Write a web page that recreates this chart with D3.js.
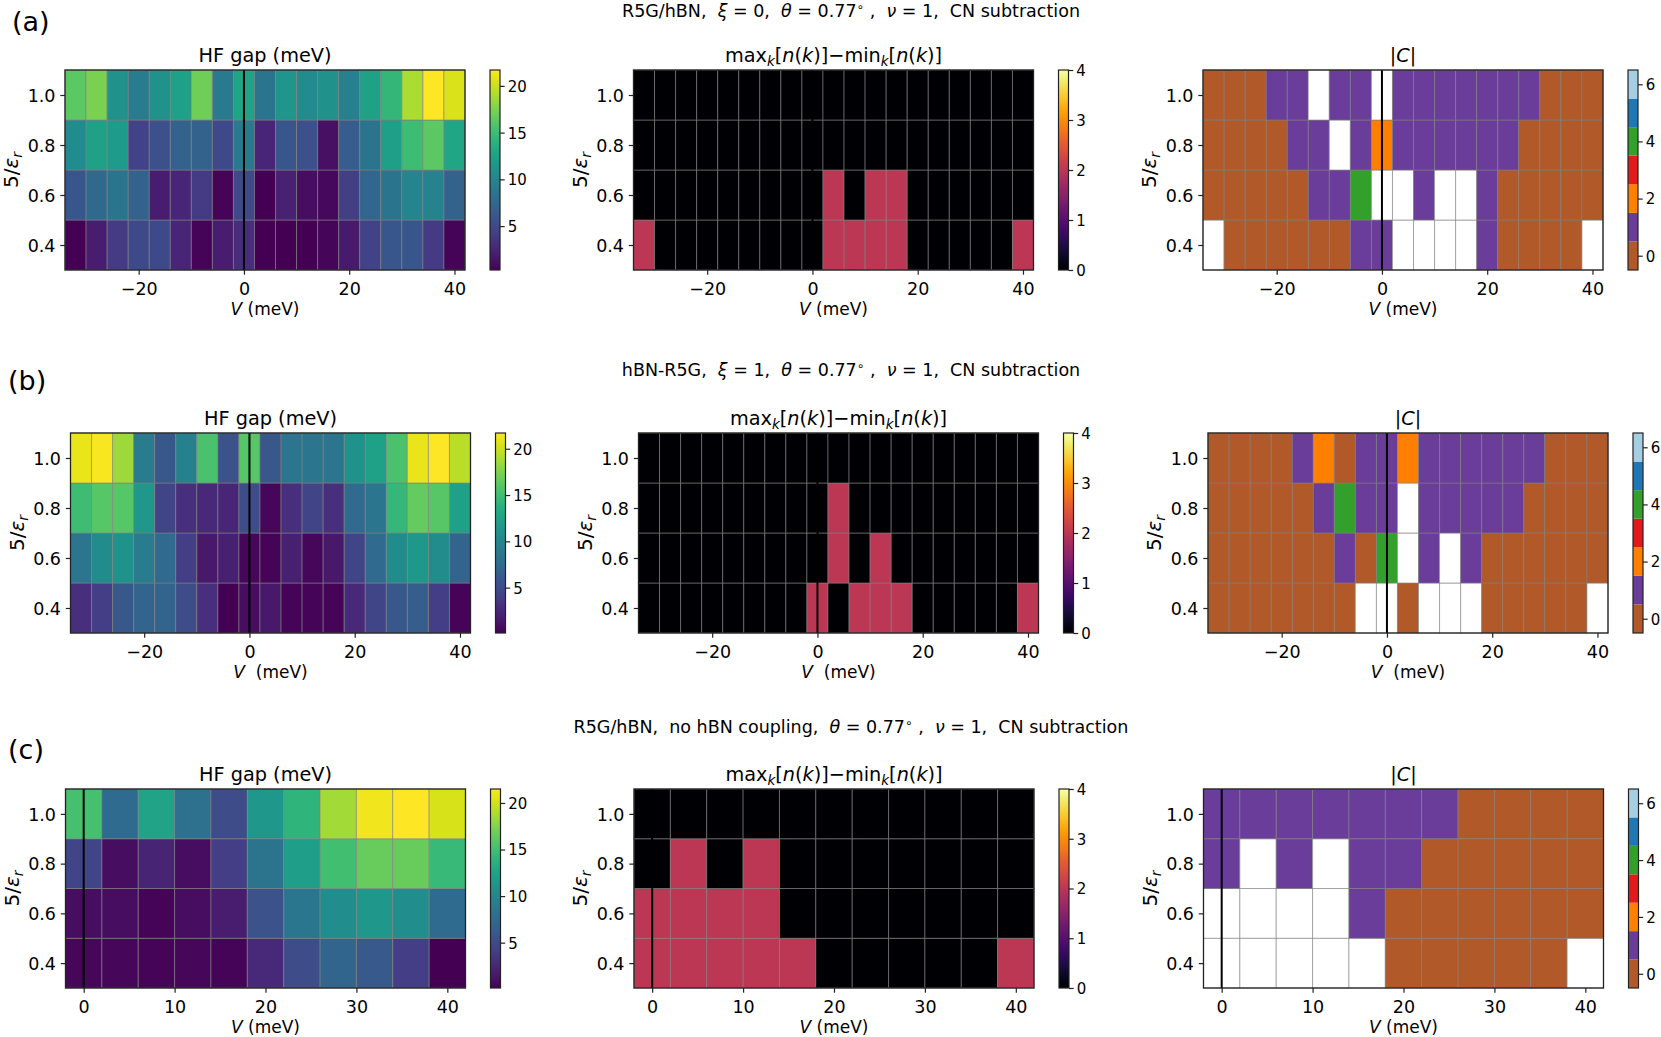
<!DOCTYPE html>
<html><head><meta charset="utf-8">
<script src="https://cdn.jsdelivr.net/npm/d3@7"></script>
<style>
body{margin:0;background:#fff;overflow:hidden;}
text{font-family:"DejaVu Sans",sans-serif;fill:#000;white-space:pre;}
</style></head><body>
<script>
// ---------------- data ----------------
const V_ab = [-32,-28,-24,-20,-16,-12,-8,-4,0,4,8,12,16,20,24,28,32,36,40];
const V_c  = [0,4,8,12,16,20,24,28,32,36,40];
const eps  = [0.4,0.6,0.8,1.0];
const xTicksAB = [-20,0,20,40];
const xTicksC  = [0,10,20,30,40];
const yTicks   = [0.4,0.6,0.8,1.0];
const gapTicks = [5,10,15,20];
const nkTicks  = [0,1,2,3,4];
const cTicks   = [0,2,4,6];

// HF gap (meV), rows: 5/eps = 0.4, 0.6, 0.8, 1.0
const gapA = [
  [0.3,2.0,4.0,5.0,5.0,2.5,0.5,2.0,3.0,0.3,0.3,0.3,0.6,1.8,4.5,6.0,6.0,4.0,0.5],
  [6.0,7.5,8.5,7.0,2.0,2.5,4.0,0.5,5.0,0.3,2.3,1.0,0.8,4.3,7.3,8.5,10.0,9.8,7.0],
  [10.5,12.5,12.0,4.5,5.5,7.0,7.0,5.0,9.0,2.5,6.0,5.5,1.2,6.5,8.5,12.3,15.0,16.3,13.0],
  [16.3,17.4,11.0,9.2,11.0,12.5,17.0,9.0,12.8,8.5,11.5,10.5,11.0,9.5,12.5,14.5,19.0,21.7,20.5]
];
const gapB = [
  [3.0,4.0,6.0,7.0,7.0,5.0,3.0,0.1,0.8,1.5,0.3,0.3,0.3,2.5,4.5,6.0,6.5,4.0,0.3],
  [8.5,10.5,11.0,9.0,7.5,4.0,1.5,2.0,0.5,0.3,2.0,0.5,1.5,4.5,7.5,10.5,11.5,10.5,7.0],
  [15.0,16.0,16.0,11.5,4.5,3.0,2.5,2.3,5.0,0.5,3.0,4.5,3.0,7.5,8.5,14.5,16.5,16.0,12.5],
  [21.0,21.5,18.5,9.0,6.0,9.5,15.5,5.5,16.0,6.0,8.5,8.5,8.5,11.0,12.5,15.5,21.0,21.7,19.5]
];
const gapC = [
  [0.5,0.5,0.3,0.5,0.3,2.5,5.0,7.0,6.0,4.0,0.13],
  [0.8,0.8,0.3,0.8,1.8,5.5,8.5,10.5,11.5,10.5,7.5],
  [4.5,0.8,2.3,0.8,4.0,8.3,12.0,15.0,16.5,16.5,14.5],
  [15.2,7.5,12.5,8.0,5.0,11.5,14.0,18.5,21.0,21.5,20.2]
];

// max_k[n(k)] - min_k[n(k)]
const nkA = [
  [2,0,0,0,0,0,0,0,0,2,2,2,2,0,0,0,0,0,2],
  [0,0,0,0,0,0,0,0,0,2,0,2,2,0,0,0,0,0,0],
  [0,0,0,0,0,0,0,0,0,0,0,0,0,0,0,0,0,0,0],
  [0,0,0,0,0,0,0,0,0,0,0,0,0,0,0,0,0,0,0]
];
const nkB = [
  [0,0,0,0,0,0,0,0,2,0,2,2,2,0,0,0,0,0,2],
  [0,0,0,0,0,0,0,0,0,2,0,2,0,0,0,0,0,0,0],
  [0,0,0,0,0,0,0,0,0,2,0,0,0,0,0,0,0,0,0],
  [0,0,0,0,0,0,0,0,0,0,0,0,0,0,0,0,0,0,0]
];
const nkC = [
  [2,2,2,2,2,0,0,0,0,0,2],
  [2,2,2,2,0,0,0,0,0,0,0],
  [0,2,0,2,0,0,0,0,0,0,0],
  [0,0,0,0,0,0,0,0,0,0,0]
];

// |C| (null = not available, drawn white)
const CA = [
  [null,0,0,0,0,0,0,1,1,null,null,null,null,1,0,0,0,0,null],
  [0,0,0,0,0,1,1,4,null,null,1,null,null,1,0,0,0,0,0],
  [0,0,0,0,1,1,null,1,2,1,1,1,1,1,1,0,0,0,0],
  [0,0,0,1,1,null,1,1,null,1,1,1,1,1,1,1,0,0,0]
];
const CB = [
  [0,0,0,0,0,0,0,null,null,0,null,null,null,0,0,0,0,0,null],
  [0,0,0,0,0,0,1,0,4,null,1,null,1,0,0,0,0,0,0],
  [0,0,0,0,0,1,4,1,1,null,1,1,1,1,1,0,0,0,0],
  [0,0,0,0,1,2,0,1,1,2,1,1,1,1,1,1,0,0,0]
];
const CC = [
  [null,null,null,null,null,0,0,0,0,0,null],
  [null,null,null,null,1,0,0,0,0,0,0],
  [1,null,1,null,1,1,0,0,0,0,0],
  [1,1,1,1,1,1,1,0,0,0,0]
];

const cColors = ["#b15928","#6a3d9a","#ff7f00","#e31a1c","#33a02c","#1f78b4","#a6cee3"];

// ---------------- drawing ----------------
const W = 1661, H = 1037;
const svg = d3.select("body").append("svg").attr("width", W).attr("height", H);

const FS_TICK = 17.5, FS_XL = 17, FS_YL = 20, FS_TITLE = 19.3, FS_CB = 15, FS_SUP = 17.5, FS_LAB = 27;

function rich(sel, parts, fs, supShift){
  let cur = 0;
  parts.forEach(p=>{
    const off = p.sub ? 0.22*fs : (p.sup ? -(supShift||0.42)*fs : 0);
    const ts = sel.append("tspan").text(p.t).attr("dy", off-cur);
    cur = off;
    if(p.sub || p.sup) ts.attr("font-size", fs*0.7);
    if(p.it) ts.attr("font-style","italic");
  });
}

function panel(o){
  const g = svg.append("g");
  const x = d3.scaleLinear().domain(o.xdom).range([o.left, o.left+o.w]);
  const y = d3.scaleLinear().domain([0.3,1.1]).range([o.top+o.h, o.top]);
  const cells = [];
  o.data.forEach((row,i)=>row.forEach((v,j)=>cells.push({V:o.V[j], e:eps[i], v})));
  g.selectAll("rect.cell").data(cells).join("rect").attr("class","cell")
    .attr("x", d=>x(d.V-2)).attr("y", d=>y(d.e+0.1))
    .attr("width", d=>x(d.V+2)-x(d.V-2)).attr("height", d=>y(d.e-0.1)-y(d.e+0.1))
    .attr("fill", d=> d.v==null ? "#ffffff" : o.color(d.v))
    .attr("stroke","#808080").attr("stroke-opacity",0.6).attr("stroke-width",1);
  // V = 0 line
  g.append("line").attr("x1",x(0)).attr("x2",x(0)).attr("y1",o.top).attr("y2",o.top+o.h)
    .attr("stroke","#000").attr("stroke-width",2);
  // spine
  g.append("rect").attr("x",o.left).attr("y",o.top).attr("width",o.w).attr("height",o.h)
    .attr("fill","none").attr("stroke","#222").attr("stroke-width",1.3);
  // x axis
  const xa = g.append("g").attr("transform",`translate(0,${o.top+o.h})`)
    .call(d3.axisBottom(x).tickValues(o.xt).tickSize(4.7).tickSizeOuter(0).tickPadding(4));
  xa.select(".domain").remove();
  xa.selectAll("line").attr("stroke","#222").attr("stroke-width",1.2);
  xa.selectAll("text").attr("font-size",FS_TICK).attr("font-family","DejaVu Sans").attr("dy",null).attr("y",24.5);
  // y axis
  const ya = g.append("g").attr("transform",`translate(${o.left},0)`)
    .call(d3.axisLeft(y).tickValues(yTicks).tickFormat(d3.format(".1f")).tickSize(4.7).tickSizeOuter(0).tickPadding(4));
  ya.select(".domain").remove();
  ya.selectAll("line").attr("stroke","#222").attr("stroke-width",1.2);
  ya.selectAll("text").attr("font-size",FS_TICK).attr("font-family","DejaVu Sans").attr("dy","0.36em").attr("x",-9.5);
  // title
  const tt = g.append("text").attr("x",o.left+o.w/2).attr("y",o.top-8).attr("text-anchor","middle").attr("font-size",FS_TITLE);
  rich(tt, o.title, FS_TITLE);
  // x label
  const xl = g.append("text").attr("x",o.left+o.w/2).attr("y",o.top+o.h+45).attr("text-anchor","middle").attr("font-size",FS_XL);
  rich(xl, [{t:"V",it:true},{t:o.xlsp+"(meV)"}], FS_XL);
  // y label
  const yl = g.append("text").attr("transform",`translate(${o.left-47},${o.top+o.h/2}) rotate(-90)`)
    .attr("text-anchor","middle").attr("font-size",FS_YL);
  rich(yl, [{t:"5/"},{t:"ε",it:true},{t:"r",it:true,sub:true}], FS_YL);
  // colorbar
  const cx = o.left+o.w+25, cw = 10;
  const cy = d3.scaleLinear().domain(o.cdom).range([o.top+o.h, o.top]);
  if(o.cbType==="grad"){
    const id = "grad"+Math.random().toString(36).slice(2,8);
    const lg = svg.append("defs").append("linearGradient").attr("id",id)
      .attr("x1",0).attr("y1",1).attr("x2",0).attr("y2",0);
    d3.range(0,1.0001,0.02).forEach(t=>lg.append("stop").attr("offset",t).attr("stop-color",o.interp(t)));
    g.append("rect").attr("x",cx).attr("y",o.top).attr("width",cw).attr("height",o.h).attr("fill",`url(#${id})`);
  } else {
    g.selectAll("rect.cb").data(cColors).join("rect").attr("class","cb")
      .attr("x",cx).attr("width",cw)
      .attr("y",(c,i)=>cy(i+0.5)).attr("height",(c,i)=>cy(i-0.5)-cy(i+0.5)).attr("fill",c=>c);
  }
  g.append("rect").attr("x",cx).attr("y",o.top).attr("width",cw).attr("height",o.h)
    .attr("fill","none").attr("stroke","#222").attr("stroke-width",1.2);
  const ca = g.append("g").attr("transform",`translate(${cx+cw},0)`)
    .call(d3.axisRight(cy).tickValues(o.ct).tickFormat(d3.format("d")).tickSize(4.7).tickSizeOuter(0).tickPadding(3));
  ca.select(".domain").remove();
  ca.selectAll("line").attr("stroke","#222").attr("stroke-width",1.2);
  ca.selectAll("text").attr("font-size",FS_CB).attr("font-family","DejaVu Sans").attr("dy","0.36em");
}

const titleGap = [{t:"HF gap (meV)"}];
const titleNk = [{t:"max"},{t:"k",sub:true,it:true},{t:"["},{t:"n",it:true},{t:"("},{t:"k",it:true},{t:")]−min"},
  {t:"k",sub:true,it:true},{t:"["},{t:"n",it:true},{t:"("},{t:"k",it:true},{t:")]"}];
const titleC = [{t:"|"},{t:"C",it:true},{t:"|"}];

const supA = [{t:"R5G/hBN,  "},{t:"ξ",it:true},{t:" = 0,  "},{t:"θ",it:true},{t:" = 0.77"},{t:"∘",sup:true},{t:" ,  "},{t:"ν",it:true},{t:" = 1,  CN subtraction"}];
const supB = [{t:"hBN-R5G,  "},{t:"ξ",it:true},{t:" = 1,  "},{t:"θ",it:true},{t:" = 0.77"},{t:"∘",sup:true},{t:" ,  "},{t:"ν",it:true},{t:" = 1,  CN subtraction"}];
const supC = [{t:"R5G/hBN,  no hBN coupling,  "},{t:"θ",it:true},{t:" = 0.77"},{t:"∘",sup:true},{t:" ,  "},{t:"ν",it:true},{t:" = 1,  CN subtraction"}];

const rowsCfg = [
  {lab:"(a)", labX:12, labY:31, supY:16.5, top:70, h:200, lefts:[65,633.5,1203], V:V_ab, xdom:[-34,42], xt:xTicksAB, gap:gapA, nk:nkA, C:CA, sup:supA, xlsp:" "},
  {lab:"(b)", labX:8, labY:390, supY:376, top:433, h:200, lefts:[70.5,638.5,1208], V:V_ab, xdom:[-34,42], xt:xTicksAB, gap:gapB, nk:nkB, C:CB, sup:supB, xlsp:"  "},
  {lab:"(c)", labX:8, labY:759, supY:733, top:789, h:199, lefts:[65.5,634,1203.5], V:V_c, xdom:[-2,42], xt:xTicksC, gap:gapC, nk:nkC, C:CC, sup:supC, xlsp:" "}
];

rowsCfg.forEach(r=>{
  svg.append("text").attr("x",r.labX).attr("y",r.labY).attr("font-size",FS_LAB).text(r.lab);
  const st = svg.append("text").attr("x",851).attr("y",r.supY).attr("text-anchor","middle").attr("font-size",FS_SUP);
  rich(st, r.sup, FS_SUP, 0.33);
  const gext = d3.extent(r.gap.flat());
  const gcol = d3.scaleSequential(d3.interpolateViridis).domain(gext);
  panel({left:r.lefts[0], top:r.top, w:400, h:r.h, xdom:r.xdom, xt:r.xt, V:r.V, data:r.gap,
    color:gcol, cbType:"grad", interp:d3.interpolateViridis, cdom:gext, ct:gapTicks, title:titleGap, xlsp:r.xlsp});
  const ncol = d3.scaleSequential(d3.interpolateInferno).domain([0,4]);
  panel({left:r.lefts[1], top:r.top, w:400, h:r.h, xdom:r.xdom, xt:r.xt, V:r.V, data:r.nk,
    color:ncol, cbType:"grad", interp:d3.interpolateInferno, cdom:[0,4], ct:nkTicks, title:titleNk, xlsp:r.xlsp});
  panel({left:r.lefts[2], top:r.top, w:400, h:r.h, xdom:r.xdom, xt:r.xt, V:r.V, data:r.C,
    color:v=>cColors[v], cbType:"disc", cdom:[-0.5,6.5], ct:cTicks, title:titleC, xlsp:r.xlsp});
});
</script>
</body></html>
